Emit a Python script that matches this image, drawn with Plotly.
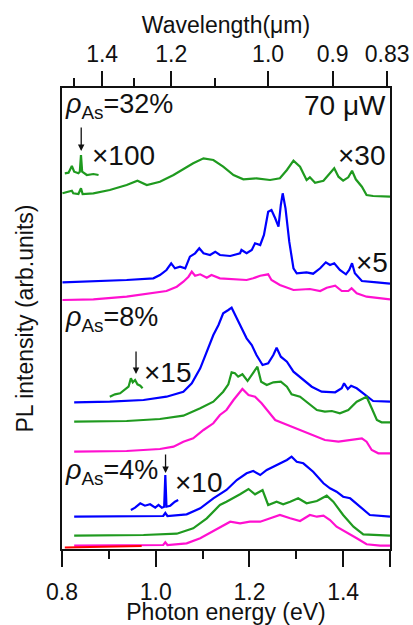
import plotly.graph_objects as go

# ---------------- data (photon energy in eV, PL intensity in arb. units incl. stacking offset) -------------
# pAs = 32 %
e32_green = [0.801, 0.817, 0.821, 0.824, 0.835, 0.8405, 0.844, 0.867, 0.902, 0.938, 0.961, 0.981, 1.009, 1.038,
             1.059, 1.080, 1.102, 1.123, 1.144, 1.166, 1.187, 1.215, 1.244, 1.265, 1.280, 1.294, 1.308, 1.322,
             1.329, 1.340, 1.358, 1.372, 1.381, 1.390, 1.400, 1.411, 1.419, 1.427, 1.440, 1.450, 1.464, 1.500]
i32_green = [355.7, 357.3, 358.3, 355.7, 355.0, 360.7, 355.0, 355.7, 359.0, 364.0, 368.3, 364.0, 367.3, 374.0,
             379.7, 385.7, 390.7, 389.0, 382.3, 374.0, 369.7, 370.7, 369.0, 370.7, 379.0, 388.3, 382.3, 369.0,
             371.7, 366.3, 368.3, 375.7, 380.7, 372.3, 368.3, 371.7, 378.3, 369.7, 362.3, 354.0, 353.0, 352.3]
e32_green_x100 = [0.806, 0.814, 0.821, 0.826, 0.835, 0.838, 0.8405, 0.843, 0.853, 0.867, 0.878]
i32_green_x100 = [375.7, 376.3, 383.0, 377.3, 375.7, 377.3, 394.0, 377.3, 374.0, 375.0, 374.0]
e32_blue = [0.801, 0.853, 0.888, 0.938, 0.995, 1.009, 1.023, 1.033, 1.041, 1.052, 1.063, 1.073, 1.084, 1.093,
            1.102, 1.116, 1.127, 1.137, 1.159, 1.180, 1.183, 1.194, 1.205, 1.212, 1.223, 1.231, 1.240, 1.247,
            1.255, 1.262, 1.267, 1.271, 1.277, 1.285, 1.294, 1.301, 1.322, 1.336, 1.351, 1.363, 1.372, 1.381,
            1.393, 1.406, 1.413, 1.419, 1.425, 1.440, 1.472, 1.500]
i32_blue = [266.7, 267.3, 268.0, 269.0, 270.7, 274.0, 279.0, 285.7, 280.7, 282.3, 280.7, 292.3, 295.7, 300.7,
            295.7, 294.0, 297.3, 294.0, 293.0, 295.7, 299.0, 295.7, 299.0, 305.7, 304.0, 314.0, 337.3, 339.0,
            330.7, 322.3, 344.0, 355.7, 340.7, 307.3, 280.7, 275.7, 276.7, 275.3, 280.7, 286.7, 284.0, 285.7,
            279.0, 274.7, 279.0, 285.7, 275.7, 268.0, 266.7, 265.3]
e32_magenta = [0.801, 0.867, 0.938, 0.995, 1.023, 1.045, 1.059, 1.070, 1.077, 1.084, 1.095, 1.109, 1.119, 1.137,
               1.166, 1.194, 1.208, 1.223, 1.240, 1.247, 1.265, 1.294, 1.329, 1.351, 1.365, 1.383, 1.397, 1.411,
               1.418, 1.429, 1.450, 1.500]
i32_magenta = [249.0, 249.7, 252.3, 255.7, 258.0, 262.3, 267.3, 272.3, 277.3, 273.3, 274.7, 271.3, 274.0, 270.7,
               270.0, 269.0, 270.7, 273.3, 274.7, 269.0, 264.0, 259.0, 260.0, 258.0, 261.3, 263.3, 258.0, 258.0,
               260.7, 255.7, 252.3, 249.7]

# pAs = 8 %
e8_blue = [0.826, 0.902, 0.974, 1.023, 1.059, 1.077, 1.095, 1.109, 1.123, 1.134, 1.144, 1.155, 1.162, 1.173,
           1.183, 1.194, 1.205, 1.215, 1.228, 1.240, 1.251, 1.258, 1.267, 1.280, 1.294, 1.312, 1.333, 1.354,
           1.383, 1.397, 1.402, 1.410, 1.417, 1.429, 1.447, 1.464, 1.500]
i8_blue = [146.7, 147.3, 149.0, 152.3, 157.3, 165.7, 180.7, 197.3, 214.0, 224.0, 235.7, 239.0, 241.3, 230.7,
           220.7, 210.7, 204.0, 194.0, 184.0, 185.7, 194.0, 201.3, 192.3, 187.3, 177.3, 170.7, 162.3, 157.3,
           156.7, 160.7, 165.7, 160.0, 163.3, 160.7, 154.0, 148.0, 147.3]
e8_green_x15 = [0.902, 0.913, 0.924, 0.934, 0.942, 0.947, 0.951, 0.956, 0.961, 0.967, 0.972]
i8_green_x15 = [152.3, 154.7, 155.7, 159.0, 162.3, 170.7, 166.7, 169.0, 164.7, 163.3, 160.7]
e8_green = [0.826, 0.938, 1.009, 1.059, 1.095, 1.123, 1.144, 1.155, 1.162, 1.169, 1.176, 1.185, 1.196, 1.208,
            1.217, 1.225, 1.237, 1.251, 1.267, 1.280, 1.290, 1.308, 1.326, 1.344, 1.361, 1.376, 1.393, 1.411,
            1.429, 1.450, 1.461, 1.472, 1.482, 1.500]
i8_green = [127.3, 128.0, 130.0, 133.3, 140.7, 147.3, 157.3, 164.7, 176.7, 175.7, 172.3, 174.7, 168.0, 175.7,
            182.3, 167.3, 164.0, 166.7, 167.3, 162.3, 154.7, 152.3, 145.7, 139.0, 137.3, 138.0, 135.7, 139.0,
            147.3, 152.3, 140.7, 129.0, 126.7, 126.7]
e8_magenta = [0.826, 0.938, 1.009, 1.038, 1.059, 1.080, 1.102, 1.123, 1.137, 1.151, 1.166, 1.185, 1.198, 1.212,
              1.226, 1.240, 1.255, 1.272, 1.290, 1.315, 1.333, 1.361, 1.390, 1.411, 1.440, 1.450, 1.461, 1.475,
              1.500]
i8_magenta = [97.3, 98.0, 100.0, 102.3, 107.3, 110.7, 119.0, 125.7, 134.0, 139.0, 149.0, 160.0, 154.0, 152.3,
              145.7, 137.3, 129.0, 125.7, 122.3, 117.3, 114.0, 109.0, 107.3, 109.0, 110.7, 107.3, 99.0, 95.7,
              95.7]

# pAs = 4 %
e4_blue = [0.826, 0.938, 1.016, 1.0205, 1.025, 1.066, 1.095, 1.123, 1.151, 1.173, 1.194, 1.208, 1.223, 1.237,
           1.258, 1.280, 1.290, 1.301, 1.315, 1.336, 1.358, 1.372, 1.386, 1.400, 1.415, 1.436, 1.457, 1.500]
i4_blue = [32.3, 32.3, 33.0, 36.0, 33.0, 34.7, 40.7, 50.7, 59.0, 69.0, 75.7, 78.0, 74.0, 79.0,
           84.0, 89.0, 92.3, 87.3, 85.7, 77.3, 65.7, 60.7, 57.3, 52.3, 50.7, 42.3, 34.0, 32.3]
e4_blue_x10 = [0.947, 0.956, 0.967, 0.977, 0.988, 0.999, 1.006, 1.013, 1.018, 1.0205, 1.023, 1.031, 1.041, 1.048]
i4_blue_x10 = [39.0, 41.3, 45.7, 43.3, 44.7, 41.3, 44.0, 41.3, 42.3, 74.0, 42.3, 43.3, 47.3, 49.0]
e4_green = [0.826, 0.974, 1.045, 1.080, 1.109, 1.137, 1.151, 1.166, 1.180, 1.198, 1.212, 1.228, 1.240, 1.258,
            1.272, 1.287, 1.304, 1.322, 1.344, 1.365, 1.379, 1.400, 1.422, 1.443, 1.500]
i4_green = [13.3, 14.0, 15.3, 20.7, 30.7, 44.0, 47.3, 50.7, 54.7, 60.0, 54.7, 59.0, 44.0, 47.3,
            44.7, 47.3, 50.7, 45.7, 48.0, 53.3, 47.3, 34.0, 22.3, 14.7, 13.3]
e4_magenta = [0.826, 1.009, 1.016, 1.0205, 1.025, 1.066, 1.095, 1.123, 1.144, 1.159, 1.180, 1.201, 1.223, 1.244,
              1.265, 1.287, 1.308, 1.329, 1.344, 1.358, 1.372, 1.386, 1.408, 1.429, 1.450, 1.479, 1.500]
i4_magenta = [3.3, 4.0, 4.0, 6.7, 4.0, 5.7, 10.7, 18.0, 23.3, 27.3, 25.7, 27.3, 27.3, 30.7,
              34.0, 30.7, 28.0, 34.0, 32.3, 33.3, 29.0, 22.3, 16.7, 10.7, 4.7, 3.3, 3.3]
e_red = [0.806, 0.880, 0.970]
i_red = [1.5, 2.0, 3.0]

# axis ticks
x_ticks = [0.8, 1.0, 1.2, 1.4, 1.5]
x_ticktext = ["0.8", "1.0", "1.2", "1.4", ""]
x_minor = [0.9, 1.1, 1.3]
wl_major = [1.4, 1.2, 1.0, 0.9, 0.83]
wl_major_text = ["1.4", "1.2", "1.0", "0.9", "0.83"]
wl_minor = [1.5, 1.3, 1.1]
HC = 1.23984  # eV*um

GREEN = "#1f9a1f"
BLUE = "#0000ff"
MAGENTA = "#ff10d0"
RED = "#ff0000"
INK = "#111111"
FONT = "Liberation Sans, Arial, sans-serif"

fig = go.Figure()

series = [
    (e32_green, i32_green, GREEN), (e32_green_x100, i32_green_x100, GREEN),
    (e32_blue, i32_blue, BLUE), (e32_magenta, i32_magenta, MAGENTA),
    (e8_blue, i8_blue, BLUE), (e8_green_x15, i8_green_x15, GREEN),
    (e8_green, i8_green, GREEN), (e8_magenta, i8_magenta, MAGENTA),
    (e4_blue, i4_blue, BLUE), (e4_blue_x10, i4_blue_x10, BLUE),
    (e4_green, i4_green, GREEN), (e4_magenta, i4_magenta, MAGENTA),
    (e_red, i_red, RED),
]
for xs, ys, c in series:
    fig.add_trace(go.Scatter(x=xs, y=ys, mode="lines", line=dict(color=c, width=2.2),
                             showlegend=False, hoverinfo="skip"))

# dummy trace for top axis
fig.add_trace(go.Scatter(x=[0.8, 1.5], y=[None, None], xaxis="x2", mode="lines",
                         showlegend=False, hoverinfo="skip"))

fig.update_layout(
    width=413, height=625,
    margin=dict(l=62, r=23, t=88, b=76),
    plot_bgcolor="white", paper_bgcolor="white",
    font=dict(family=FONT, size=23, color=INK),
    xaxis=dict(range=[0.8, 1.5], tickmode="array", tickvals=x_ticks, ticktext=x_ticktext,
               ticks="outside", ticklen=16, tickwidth=1.5, tickcolor=INK,
               minor=dict(tickvals=x_minor, ticks="outside", ticklen=8, tickwidth=1.5, tickcolor=INK),
               showline=True, linecolor=INK, linewidth=1.5, mirror=True, automargin=False,
               showgrid=False, zeroline=False, ticklabelstandoff=6,
               title=dict(text="Photon energy (eV)", standoff=12, font=dict(size=23))),
    xaxis2=dict(range=[0.8, 1.5], overlaying="x", side="top", tickmode="array",
                tickvals=[HC / w for w in wl_major], ticktext=wl_major_text,
                ticks="outside", ticklen=16, tickwidth=1.5, tickcolor=INK,
                minor=dict(tickvals=[HC / w for w in wl_minor], ticks="outside", ticklen=9,
                           tickwidth=1.5, tickcolor=INK),
                showline=False, showgrid=False, zeroline=False, ticklabelstandoff=0, automargin=False,
                title=dict(text="Wavelength(μm)", standoff=0, font=dict(size=23))),
    yaxis=dict(range=[0, 461], showticklabels=False, ticks="", showgrid=False, zeroline=False,
               showline=True, linecolor=INK, linewidth=1.5, mirror=True, automargin=False,
               title=dict(text="PL intensity (arb.units)", standoff=20, font=dict(size=23))),
)

labels = [
    ("<i>ρ</i><sub>As</sub>=32%", 0.003, 0.961, "left", 27),
    ("70 μW", 0.994, 0.961, "right", 28),
    ("×100", 0.085, 0.8525, "left", 28),
    ("×30", 0.994, 0.8525, "right", 28),
    ("×5", 1.0, 0.6215, "right", 28),
    ("<i>ρ</i><sub>As</sub>=8%", 0.003, 0.5, "left", 27),
    ("×15", 0.244, 0.382, "left", 28),
    ("<i>ρ</i><sub>As</sub>=4%", 0.003, 0.167, "left", 27),
    ("×10", 0.338, 0.145, "left", 28),
]
for t, x, y, xa, fs in labels:
    fig.add_annotation(text=t, x=x, y=y, xref="paper", yref="paper", xanchor=xa, yanchor="middle",
                       showarrow=False, font=dict(family=FONT, size=fs, color=INK))

arrows = [(0.841, 398, -25), (0.958, 175, -24), (1.021, 76, -20)]
for x, y, ay in arrows:
    fig.add_annotation(x=x, y=y, xref="x", yref="y", text="", showarrow=True, ax=0, ay=ay,
                       arrowhead=2, arrowsize=1, arrowwidth=1.3, arrowcolor=INK)

fig.write_html("out.html", config={"displayModeBar": False},
               post_script="document.body.style.margin='0';")
